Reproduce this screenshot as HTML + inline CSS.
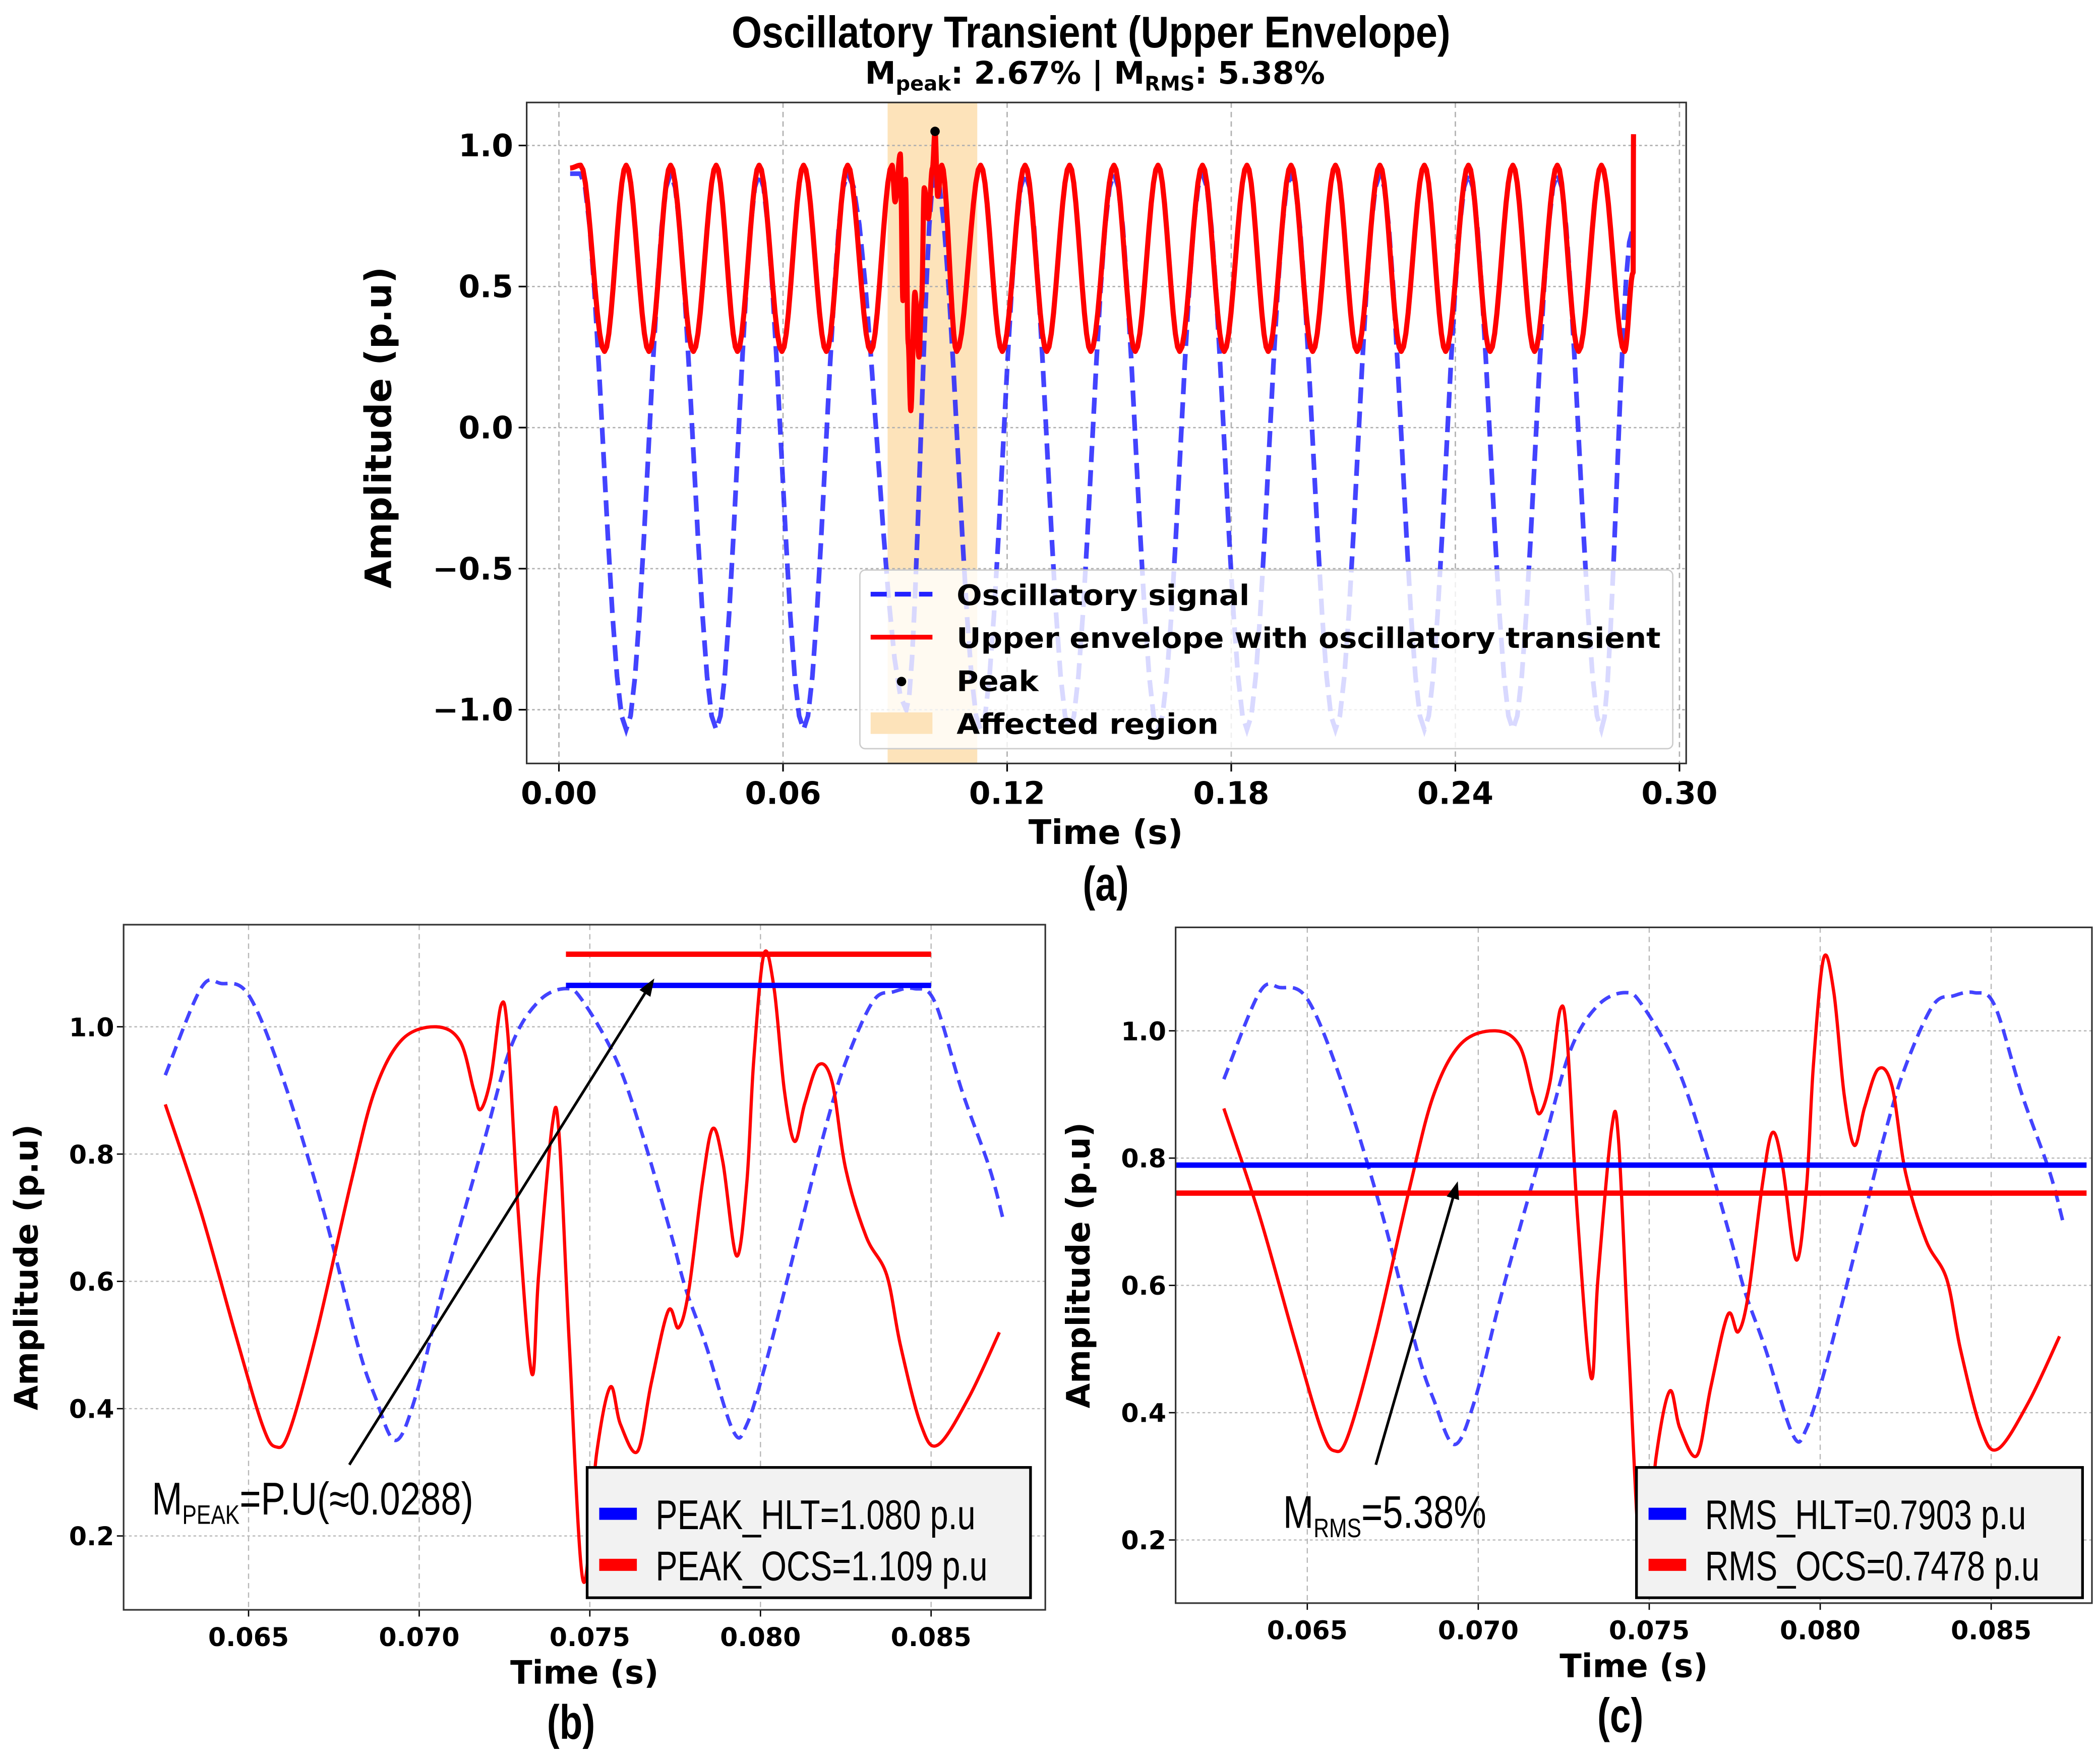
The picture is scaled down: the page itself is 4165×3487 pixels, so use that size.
<!DOCTYPE html>
<html><head><meta charset="utf-8"><style>
html,body{margin:0;padding:0;background:#fff;}
svg{display:block;}
.b{font-family:"DejaVu Sans","Liberation Sans",sans-serif;font-weight:bold;}
.n{font-family:"Liberation Sans Narrow","Liberation Sans",sans-serif;}
</style></head><body>
<svg id="fig" width="4165" height="3487" viewBox="0 0 1563 1308" xmlns="http://www.w3.org/2000/svg">
<rect x="0" y="0" width="1563" height="1308" fill="#fff"/>
<text class="n" x="812" y="35" text-anchor="middle" font-size="33" font-weight="bold" textLength="535" lengthAdjust="spacingAndGlyphs">Oscillatory Transient (Upper Envelope)</text>
<text class="b" x="815" y="62" text-anchor="middle" font-size="23">M<tspan font-size="15" dy="5">peak</tspan><tspan dy="-5">: 2.67%  |  M</tspan><tspan font-size="15" dy="5">RMS</tspan><tspan dy="-5">: 5.38%</tspan></text>
<g id="pa"></g>
<g id="pb"></g>
<g id="pc"></g>
</svg>
<script>
// ---- Panel (a) data ----
const aBlueT = [0.0030,0.0058,0.0180,0.0299,0.0421,0.0536,0.0655,0.0773,0.0930,0.1007,0.1129,0.1248,0.1367,0.1486,0.1604,0.1723,0.1842,0.1960,0.2079,0.2198,0.2317,0.2435,0.2554,0.2673,0.2791,0.2874];
const aBlueV = [0.90,0.90,-1.07,0.90,-1.07,0.90,-1.07,0.90,-1.0,0.90,-1.07,0.90,-1.07,0.90,-1.07,0.90,-1.07,0.90,-1.07,0.90,-1.07,0.90,-1.07,0.90,-1.07,0.70];
const aRedT = [0.0030,0.0058,0.0122,0.0180,0.0241,0.0299,0.0360,0.0421,0.0478,0.0536,0.0597,0.0655,0.0716,0.0773,0.0835,0.0892,0.0900,0.0914,0.0921,0.0928,0.0935,0.0942,0.0953,0.0964,0.0971,0.0978,0.0989,0.1000,0.1007,0.1014,0.1025,0.1065,0.1129,0.1187,0.1248,0.1306,0.1367,0.1424,0.1486,0.1543,0.1604,0.1662,0.1723,0.1781,0.1842,0.1899,0.1960,0.2018,0.2079,0.2137,0.2198,0.2255,0.2317,0.2374,0.2435,0.2493,0.2554,0.2612,0.2673,0.2730,0.2791,0.2853,0.2876,0.2877];
const aRedV = [0.92,0.93,0.27,0.93,0.27,0.93,0.27,0.93,0.27,0.93,0.27,0.93,0.27,0.93,0.27,0.93,0.80,0.97,0.45,0.88,0.30,0.06,0.48,0.25,0.45,0.85,0.74,0.92,1.05,0.82,0.93,0.27,0.93,0.27,0.93,0.27,0.93,0.27,0.93,0.27,0.93,0.27,0.93,0.27,0.93,0.27,0.93,0.27,0.93,0.27,0.93,0.27,0.93,0.27,0.93,0.27,0.93,0.27,0.93,0.27,0.93,0.27,0.55,1.04];
const aPeak = [0.1007, 1.05];
const aRegion = [0.088, 0.112];
const aXTicks = [0.00,0.06,0.12,0.18,0.24,0.30];
const aYTicks = [1.0,0.5,0.0,-0.5,-1.0];
const aYLabels = ['1.0','0.5','0.0','\u22120.5','\u22121.0'];

// ---- Panels (b),(c) data ----
const zBlueT = [0.06256,0.0636,0.0642,0.0650,0.0660,0.0672,0.0682,0.0687,0.0693,0.0699,0.0707,0.0719,0.0727,0.0735,0.0743,0.0748,0.0758,0.0766,0.0774,0.0778,0.0784,0.0792,0.0796,0.0802,0.0811,0.0819,0.0825,0.0833,0.0839,0.0845,0.0851,0.0859,0.0867,0.0871];
const zBlueV = [0.924,1.06,1.068,1.05,0.92,0.71,0.50,0.42,0.35,0.42,0.59,0.82,0.97,1.04,1.06,1.04,0.945,0.82,0.67,0.59,0.50,0.365,0.375,0.48,0.67,0.84,0.945,1.04,1.055,1.06,1.04,0.90,0.78,0.70];
const zRedT = [0.06256,0.0636,0.0646,0.0654,0.0658,0.0662,0.0670,0.0680,0.0687,0.0695,0.0705,0.0712,0.0716,0.0718,0.0721,0.0724,0.0726,0.0729,0.0733,0.0735,0.0739,0.0741,0.0744,0.0748,0.0752,0.0756,0.0759,0.0764,0.0768,0.0773,0.0776,0.0779,0.0783,0.0786,0.0789,0.0793,0.0796,0.0798,0.0801,0.0804,0.0807,0.0810,0.0813,0.0817,0.0821,0.0825,0.0831,0.0837,0.0841,0.0847,0.0852,0.0861,0.0870];
const zRedV = [0.878,0.71,0.52,0.375,0.34,0.365,0.52,0.755,0.90,0.98,1.0,0.977,0.90,0.87,0.92,1.034,0.987,0.71,0.455,0.61,0.846,0.83,0.50,0.13,0.33,0.434,0.375,0.333,0.44,0.554,0.527,0.586,0.755,0.84,0.787,0.64,0.755,0.945,1.114,1.06,0.90,0.82,0.88,0.94,0.913,0.776,0.67,0.61,0.50,0.375,0.343,0.417,0.52];
const bHltV = 1.065, bOcsV = 1.114, bLineT = [0.0743, 0.0850];
const cHltV = 0.789, cOcsV = 0.745;
const zXTicks = [0.065,0.070,0.075,0.080,0.085];
const zYTicks = [1.0,0.8,0.6,0.4,0.2];

const NS='http://www.w3.org/2000/svg';
function mk(parent, tag, attrs){const e=document.createElementNS(NS,tag);for(const k in attrs)e.setAttribute(k,attrs[k]);parent.appendChild(e);return e;}
function lin(d0,d1,p0,p1){return v=>p0+(v-d0)*(p1-p0)/(d1-d0);}
function cosPath(T,V,sx,sy){let d='M'+sx(T[0]).toFixed(2)+','+sy(V[0]).toFixed(2);
  for(let i=1;i<T.length;i++){const n=10;for(let k=1;k<=n;k++){const f=k/n,w=(1-Math.cos(Math.PI*f))/2;
    const t=T[i-1]+(T[i]-T[i-1])*f,v=V[i-1]+(V[i]-V[i-1])*w;d+='L'+sx(t).toFixed(2)+','+sy(v).toFixed(2);}}return d;}
function smoothPath(T,V,sx,sy){const P=T.map((t,i)=>[sx(t),sy(V[i])]);
  let d='M'+P[0][0].toFixed(2)+','+P[0][1].toFixed(2);
  for(let i=0;i<P.length-1;i++){const p0=P[Math.max(0,i-1)],p1=P[i],p2=P[i+1],p3=P[Math.min(P.length-1,i+2)];
    const c1=[p1[0]+(p2[0]-p0[0])/6,p1[1]+(p2[1]-p0[1])/6],c2=[p2[0]-(p3[0]-p1[0])/6,p2[1]-(p3[1]-p1[1])/6];
    d+='C'+c1[0].toFixed(2)+','+c1[1].toFixed(2)+' '+c2[0].toFixed(2)+','+c2[1].toFixed(2)+' '+p2[0].toFixed(2)+','+p2[1].toFixed(2);}
  return d;}

// ===== Panel (a) =====
(function(){
 const g=document.getElementById('pa');
 const L=392,R=1255,T=76,B=568;
 const sx=lin(0,0.30,416,1250), sy=lin(0,1,318,108);
 const reg=mk(g,'rect',{x:sx(aRegion[0]),y:T,width:sx(aRegion[1])-sx(aRegion[0]),height:B-T,fill:'#fde3ba'});
 
 
 aXTicks.forEach((v,i)=>{const x=sx(v);
  const gl=mk(g,'line',{x1:x,y1:T,x2:x,y2:B,stroke:'#b0b0b0','stroke-width':1,'stroke-dasharray':'4,3'});
  
  
  mk(g,'line',{x1:x,y1:B,x2:x,y2:B+6,stroke:'#000','stroke-width':1.2});
  const t=mk(g,'text',{x:x,y:B+30,'text-anchor':'middle','font-size':23,class:'b'});t.textContent=v.toFixed(2);
  
  });
 aYTicks.forEach((v,i)=>{const y=sy(v);
  const gl=mk(g,'line',{x1:L,y1:y,x2:R,y2:y,stroke:'#b0b0b0','stroke-width':1,'stroke-dasharray':'2,2'});
  
  
  mk(g,'line',{x1:L-6,y1:y,x2:L,y2:y,stroke:'#000','stroke-width':1.2});
  const t=mk(g,'text',{x:L-10,y:y+8,'text-anchor':'end','font-size':23,class:'b'});t.textContent=aYLabels[i];
  
  });
 const bl=mk(g,'path',{d:cosPath(aBlueT,aBlueV,sx,sy),fill:'none',stroke:'#2222ff','stroke-opacity':0.85,'stroke-width':3.5,'stroke-dasharray':'12,6'});
 
 
 const rd=mk(g,'path',{d:cosPath(aRedT,aRedV,sx,sy),fill:'none',stroke:'#ff0000','stroke-width':3.8,'stroke-linejoin':'round'});
 
 
 const pk=mk(g,'circle',{cx:sx(aPeak[0]),cy:sy(aPeak[1]),r:3.5,fill:'#000'});
 
 
 mk(g,'rect',{x:L,y:T,width:R-L,height:B-T,fill:'none',stroke:'#333','stroke-width':1.2});
 // legend
 const lg=mk(g,'g',{});
 
 
 mk(lg,'rect',{x:640,y:424,width:605,height:133,rx:4,fill:'#fff','fill-opacity':0.8,stroke:'#ccc','stroke-width':1});
 mk(lg,'line',{x1:648,y1:442,x2:694,y2:442,stroke:'#2222ff','stroke-width':3.5,'stroke-dasharray':'12,6'});
 mk(lg,'line',{x1:648,y1:474,x2:694,y2:474,stroke:'#ff0000','stroke-width':3.5});
 mk(lg,'circle',{cx:671,cy:507,r:3.5,fill:'#000'});
 mk(lg,'rect',{x:648,y:530,width:46,height:16,fill:'#fde3ba'});
 [['Oscillatory signal',442,218],['Upper envelope with oscillatory transient',474,524],['Peak',506,61],['Affected region',538,195]].forEach(a=>{
  const t=mk(lg,'text',{x:712,y:a[1]+8,'font-size':21,class:'b',textLength:a[2],lengthAdjust:'spacingAndGlyphs'});t.textContent=a[0];
  
  });
 const xl=mk(g,'text',{x:823,y:628,'text-anchor':'middle','font-size':25,class:'b'});xl.textContent='Time (s)';
 
 
 const yl=mk(g,'text',{x:0,y:0,'text-anchor':'middle','font-size':27,class:'b',transform:'translate(291,318) rotate(-90)'});yl.textContent='Amplitude (p.u)';
 
 
 const cap=mk(g,'text',{x:0,y:0,'text-anchor':'middle','font-size':36,'font-weight':'bold',class:'n',transform:'translate(823,670) scale(0.78,1)'});cap.textContent='(a)';
 
 
})();

// ===== Zoom panels =====
function zoomPanel(id,box,tick,isB){
 const g=document.getElementById(id);
 const [L,R,T,B]=box;
 const sx=lin(0.065,0.085,tick[0],tick[1]), sy=lin(1.0,0.2,tick[2],tick[3]);
 zXTicks.forEach(v=>{const x=sx(v);
  const gl=mk(g,'line',{x1:x,y1:T,x2:x,y2:B,stroke:'#b8b8b8','stroke-width':0.9,'stroke-dasharray':'4,3'});
  
  
  mk(g,'line',{x1:x,y1:B,x2:x,y2:B+5,stroke:'#000','stroke-width':1});
  const t=mk(g,'text',{x:x,y:B+27,'text-anchor':'middle','font-size':19,class:'b'});t.textContent=v.toFixed(3);
  
  });
 zYTicks.forEach(v=>{const y=sy(v);
  const gl=mk(g,'line',{x1:L,y1:y,x2:R,y2:y,stroke:'#b8b8b8','stroke-width':0.9,'stroke-dasharray':'2,2'});
  
  
  mk(g,'line',{x1:L-5,y1:y,x2:L,y2:y,stroke:'#000','stroke-width':1});
  const t=mk(g,'text',{x:L-7,y:y+7,'text-anchor':'end','font-size':19,class:'b'});t.textContent=v.toFixed(1);
  
  });
 const bl=mk(g,'path',{d:smoothPath(zBlueT,zBlueV,sx,sy),fill:'none',stroke:'#2222ff','stroke-opacity':0.85,'stroke-width':2.6,'stroke-dasharray':'9,5'});
 
 
 const rd=mk(g,'path',{d:smoothPath(zRedT,zRedV,sx,sy),fill:'none',stroke:'#ff0000','stroke-width':2.4,'stroke-linejoin':'round'});
 
 
 let legTxt, legLen, arrow, note;
 if(isB){
  const h=mk(g,'line',{x1:sx(bLineT[0]),y1:sy(bOcsV),x2:sx(bLineT[1]),y2:sy(bOcsV),stroke:'#ff0000','stroke-width':4});
  
  
  const h2=mk(g,'line',{x1:sx(bLineT[0]),y1:sy(bHltV),x2:sx(bLineT[1]),y2:sy(bHltV),stroke:'#0000ff','stroke-width':4});
  
  
  legTxt=['PEAK_HLT=1.080 p.u','PEAK_OCS=1.109 p.u']; legLen=[238,247]; arrow=[260,1090,487,728]; note=[113,1127,'PEAK','=P.U(\u22480.0288)'];
 } else {
  const h=mk(g,'line',{x1:L,y1:sy(cHltV),x2:R-4,y2:sy(cHltV),stroke:'#0000ff','stroke-width':4});
  
  
  const h2=mk(g,'line',{x1:L,y1:sy(cOcsV),x2:R-4,y2:sy(cOcsV),stroke:'#ff0000','stroke-width':4});
  
  
  legTxt=['RMS_HLT=0.7903 p.u','RMS_OCS=0.7478 p.u']; legLen=[239,249]; arrow=[1024,1090,1085,879]; note=[955,1137,'RMS','=5.38%'];
 }
 mk(g,'rect',{x:L,y:T,width:R-L,height:B-T,fill:'none',stroke:'#333','stroke-width':1.2});
 const ar=mk(g,'g',{});
 
 
 const [x1,y1,x2,y2]=arrow, ang=Math.atan2(y2-y1,x2-x1);
 mk(ar,'line',{x1:x1,y1:y1,x2:x2-10*Math.cos(ang),y2:y2-10*Math.sin(ang),stroke:'#000','stroke-width':2});
 const p=(a,l)=>[x2-l*Math.cos(a),y2-l*Math.sin(a)];
 const pA=p(ang+0.35,14),pB=p(ang-0.35,14);
 mk(ar,'polygon',{points:`${x2},${y2} ${pA[0]},${pA[1]} ${pB[0]},${pB[1]}`,fill:'#000'});
 const nt=mk(g,'text',{x:0,y:0,'font-size':34,class:'n',transform:`translate(${note[0]},${note[1]}) scale(0.8,1)`});
 
 
 nt.innerHTML='M<tspan font-size="20" dy="7">'+note[2]+'</tspan><tspan dy="-7">'+note[3]+'</tspan>';
 const lx=isB?437:1218, lw=isB?330:332;
 const lg=mk(g,'g',{});
 
 
 mk(lg,'rect',{x:lx,y:1092,width:lw,height:97,fill:'#f2f2f2',stroke:'#000','stroke-width':2});
 mk(lg,'rect',{x:lx+9,y:1122,width:28,height:9,fill:'#0000ff'});
 mk(lg,'rect',{x:lx+9,y:1160,width:28,height:9,fill:'#ff0000'});
 legTxt.forEach((s,i)=>{const t=mk(lg,'text',{x:lx+51,y:1138+i*38,'font-size':31,class:'n',textLength:legLen[i],lengthAdjust:'spacingAndGlyphs'});t.textContent=s;
  
  });
 const cx=(L+R)/2;
 const xl=mk(g,'text',{x:cx,y:B+55,'text-anchor':'middle','font-size':24,class:'b'});xl.textContent='Time (s)';
 
 
 const yl=mk(g,'text',{x:0,y:0,'text-anchor':'middle','font-size':24,class:'b',transform:`translate(${L-64},${(T+B)/2}) rotate(-90)`});yl.textContent='Amplitude (p.u)';
 
 
 const cap=mk(g,'text',{x:0,y:0,'text-anchor':'middle','font-size':36,'font-weight':'bold',class:'n',transform:`translate(${cx-10},${B+96}) scale(0.78,1)`});cap.textContent=isB?'(b)':'(c)';
 
 
}
zoomPanel('pb',[92,778,688,1198],[185,693,764,1143],true);
zoomPanel('pc',[875,1557,690,1193],[973,1482,767,1146],false);
</script>
</body></html>
